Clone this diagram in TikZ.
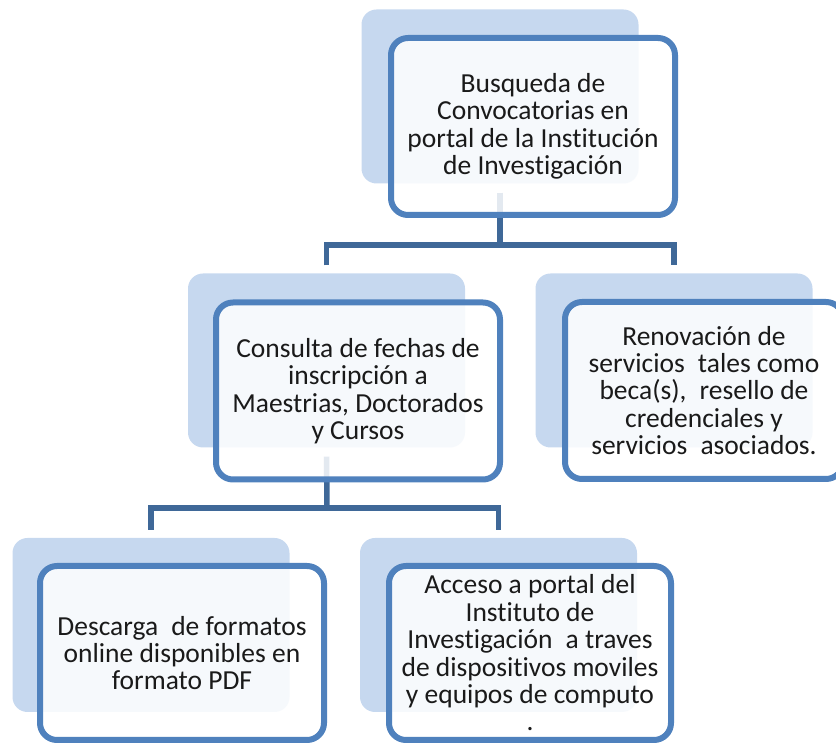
\documentclass[tikz,border=0pt]{standalone}
\usepackage{fontspec}
\setmainfont{Carlito}[Ligatures={NoCommon}]
\definecolor{bgblue}{HTML}{C6D8EF}
\definecolor{bordblue}{HTML}{4F81BD}
\definecolor{connblue}{HTML}{3F6898}
\definecolor{txt}{HTML}{1A1A1A}
\begin{document}
\begin{tikzpicture}[x=1pt,y=1pt,
  bgbox/.style={fill=bgblue, rounded corners=15pt, inner sep=0pt, minimum width=277pt, minimum height=174pt},
  fgbox/.style={draw=bordblue, line width=6pt, fill=white, fill opacity=0.86, text opacity=1,
    rounded corners=17pt, inner sep=0pt, minimum width=284pt, minimum height=177pt,
    align=center, text=txt, font=\fontsize{27.5}{27.4}\selectfont},
  conn/.style={draw=connblue, line width=5.5pt}]
\useasboundingbox (0,0) rectangle (836,744);
% background boxes
\node[bgbox] (topbg) at (500,647.5) {};
\node[bgbox] (mlbg) at (326.5,383.5) {};
\node[bgbox] (mrbg) at (674,383.5) {};
\node[bgbox] (blbg) at (151,119) {};
\node[bgbox] (brbg) at (498.5,119) {};
% junctions
\coordinate (j1) at (500,499);
\coordinate (j2) at (327,236);
% connectors
\draw[conn] ([yshift=-9pt]topbg.south) -- (j1);
\draw[conn] ([yshift=8pt]mlbg.north) |- (j1) -| ([yshift=8pt]mrbg.north);
\draw[conn] ([yshift=-9pt]mlbg.south) -- (j2);
\draw[conn] ([yshift=8pt]blbg.north) |- (j2) -| ([yshift=8pt]brbg.north);
% foreground boxes
\node[fgbox] (top) at (533,617.5) {Busqueda de\\Convocatorias en\\portal de la Institución\\de Investigación};
\node[fgbox] (ml) at (358,353) {Consulta de fechas de\\inscripción a\\Maestrias, Doctorados\\y Cursos};
\node[fgbox, minimum width=278pt] (mr) at (704,353.5) {Renovación de\\servicios\hspace{0.25em} tales como\\beca(s),\hspace{0.25em} resello de\\credenciales y\\servicios\hspace{0.25em} asociados.};
\node[fgbox, minimum height=174pt] (bl) at (182,91) {Descarga\hspace{0.25em} de formatos\\online disponibles en\\formato PDF};
\node[fgbox, minimum width=282pt, minimum height=174pt] (br) at (530,91) {Acceso a portal del\\Instituto de\\Investigación\hspace{0.25em} a traves\\de dispositivos moviles\\y equipos de computo\\.};
\end{tikzpicture}
\end{document}
